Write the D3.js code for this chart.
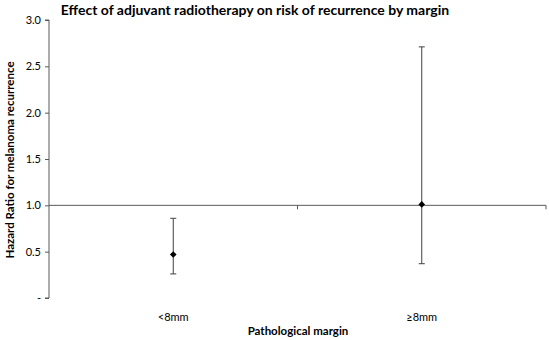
<!DOCTYPE html>
<html>
<head>
<meta charset="utf-8">
<script src="https://cdn.jsdelivr.net/npm/d3@7"></script>
<style>
body { margin: 0; background: #fff; }
text { font-family: Lato, "Open Sans", sans-serif; fill: #000; }
</style>
</head>
<body>
<div id="chart"></div>
<script>
// data
var categories = ["<8mm", "\u22658mm"];
var hazard = [0.47, 1.01];
var lowerCI = [0.26, 0.37];
var upperCI = [0.86, 2.71];
var yTicks = [0, 0.5, 1.0, 1.5, 2.0, 2.5, 3.0];

var w = 549, h = 340;
var m = {left: 49, right: 3, top: 20, bottom: 42};

var svg = d3.select("#chart")
  .append("svg")
  .attr("width", w)
  .attr("height", h);

var x = d3.scaleBand()
  .domain(categories)
  .range([m.left, w - m.right]);

var y = d3.scaleLinear()
  .domain([0, 3])
  .range([h - m.bottom, m.top]);

// title
svg.append("text")
  .attr("x", 255)
  .attr("y", 15)
  .attr("text-anchor", "middle")
  .style("font-weight", "bold")
  .style("font-size", "14px")
  .text("Effect of adjuvant radiotherapy on risk of recurrence by margin");

// y axis
var yAxis = d3.axisLeft(y)
  .tickValues(yTicks)
  .tickSize(4)
  .tickFormat(function(d) { return d === 0 ? "-" : d3.format(".1f")(d); });

var gy = svg.append("g")
  .attr("transform", "translate(" + m.left + ",0)")
  .call(yAxis);
gy.select(".domain").attr("stroke", "#595959").attr("d", "M-4," + y(3) + "H0V" + y(0) + "H-4");
gy.selectAll(".tick line").attr("stroke", "#595959");
gy.selectAll(".tick text")
  .attr("x", -8)
  .style("font-size", "11px")
  .style("font-family", "Lato, 'Open Sans', sans-serif")
  .attr("fill", "#222");

// x axis crossing at 1.0
var gx = svg.append("g")
  .attr("transform", "translate(0," + y(1) + ")");
gx.append("line")
  .attr("x1", x.range()[0]).attr("x2", x.range()[1])
  .attr("stroke", "#595959");
var bounds = [x.range()[0], x(categories[1]), x.range()[1]];
gx.selectAll(".xt")
  .data(bounds.slice(1))
  .enter().append("line")
  .attr("class", "xt")
  .attr("x1", function(d) { return d; }).attr("x2", function(d) { return d; })
  .attr("y1", 0).attr("y2", 4)
  .attr("stroke", "#595959");

// category labels at bottom
svg.selectAll(".cat")
  .data(categories)
  .enter().append("text")
  .attr("class", "cat")
  .attr("x", function(d) { return x(d) + x.bandwidth() / 2; })
  .attr("y", 321)
  .attr("text-anchor", "middle")
  .style("font-size", "11px")
  .attr("fill", "#222")
  .text(function(d) { return d; });

// axis titles
svg.append("text")
  .attr("x", 298)
  .attr("y", 335)
  .attr("text-anchor", "middle")
  .style("font-weight", "bold")
  .style("font-size", "11.5px")
  .text("Pathological margin");

svg.append("text")
  .attr("transform", "translate(14,160) rotate(-90)")
  .attr("text-anchor", "middle")
  .style("font-weight", "bold")
  .style("font-size", "11.5px")
  .text("Hazard Ratio for melanoma recurrence");

// error bars
var rows = categories.map(function(c, i) {
  return {cat: c, hr: hazard[i], lo: lowerCI[i], hi: upperCI[i]};
});

var bars = svg.append("g").selectAll("g")
  .data(rows)
  .enter().append("g")
  .attr("transform", function(d) { return "translate(" + (x(d.cat) + x.bandwidth() / 2) + ",0)"; });

bars.append("line")
  .attr("y1", function(d) { return y(d.lo); })
  .attr("y2", function(d) { return y(d.hi); })
  .attr("stroke", "#404040");
bars.append("line")
  .attr("x1", -3).attr("x2", 3)
  .attr("y1", function(d) { return y(d.lo); })
  .attr("y2", function(d) { return y(d.lo); })
  .attr("stroke", "#404040");
bars.append("line")
  .attr("x1", -3).attr("x2", 3)
  .attr("y1", function(d) { return y(d.hi); })
  .attr("y2", function(d) { return y(d.hi); })
  .attr("stroke", "#404040");
bars.append("path")
  .attr("d", d3.symbol().type(d3.symbolDiamond2).size(28))
  .attr("transform", function(d) { return "translate(0," + y(d.hr) + ")"; })
  .attr("fill", "#000");
</script>
</body>
</html>
